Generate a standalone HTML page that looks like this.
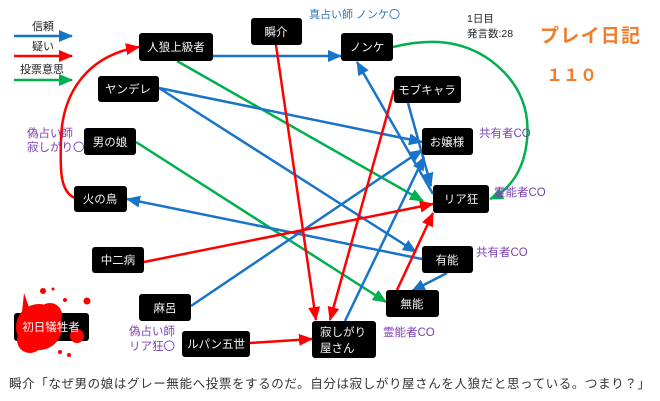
<!DOCTYPE html>
<html><head><meta charset="utf-8"><style>
html,body{margin:0;padding:0;background:#fff;}
svg{display:block;}
text{font-family:"Liberation Sans","Noto Sans CJK JP",sans-serif;}
</style></head><body>
<svg width="660" height="401" viewBox="0 0 660 401" xmlns="http://www.w3.org/2000/svg">
<defs>
<marker id="mb" markerUnits="userSpaceOnUse" markerWidth="14" markerHeight="12" refX="13" refY="6" orient="auto"><path d="M0,0 L14,6 L0,12 z" fill="#1874c8"/></marker>
<marker id="mr" markerUnits="userSpaceOnUse" markerWidth="14" markerHeight="12" refX="13" refY="6" orient="auto"><path d="M0,0 L14,6 L0,12 z" fill="#ff0000"/></marker>
<marker id="mg" markerUnits="userSpaceOnUse" markerWidth="14" markerHeight="12" refX="13" refY="6" orient="auto"><path d="M0,0 L14,6 L0,12 z" fill="#00b04f"/></marker>
</defs>
<rect width="660" height="401" fill="#fff"/>

<!-- legend -->
<g font-size="11" fill="#222">
<text x="32" y="30">信頼</text>
<text x="32" y="50">疑い</text>
<text x="20" y="73">投票意思</text>
</g>
<line x1="14" y1="36" x2="72" y2="36" stroke="#1874c8" stroke-width="2.5" marker-end="url(#mb)"/>
<line x1="14" y1="56" x2="72" y2="56" stroke="#ff0000" stroke-width="2.5" marker-end="url(#mr)"/>
<line x1="14" y1="80" x2="72" y2="80" stroke="#00b04f" stroke-width="2.5" marker-end="url(#mg)"/>

<!-- connectors -->
<g fill="none" stroke-width="2.5">
<!-- green -->
<line x1="177" y1="61" x2="423" y2="201" stroke="#00b04f" marker-end="url(#mg)"/>
<line x1="136" y1="142" x2="386" y2="302" stroke="#00b04f" marker-end="url(#mg)"/>
<path d="M393,47 C430,38 462,40 490,60 C520,82 530,110 527,140 C524,170 510,190 490,199" stroke="#00b04f" marker-end="url(#mg)"/>
<!-- blue -->
<line x1="213" y1="56" x2="341" y2="56" stroke="#1874c8" marker-end="url(#mb)"/>
<line x1="159" y1="88" x2="422" y2="142" stroke="#1874c8" marker-end="url(#mb)"/>
<line x1="159" y1="88" x2="416" y2="252" stroke="#1874c8" marker-end="url(#mb)"/>
<line x1="422" y1="259" x2="127" y2="199" stroke="#1874c8" marker-end="url(#mb)"/>
<line x1="433" y1="194" x2="357" y2="62" stroke="#1874c8" marker-end="url(#mb)"/>
<line x1="408" y1="103" x2="431" y2="186" stroke="#1874c8" marker-end="url(#mb)"/>
<line x1="191" y1="306" x2="422" y2="150" stroke="#1874c8" marker-end="url(#mb)"/>
<line x1="345" y1="321" x2="424" y2="157" stroke="#1874c8" marker-end="url(#mb)"/>
<line x1="447" y1="273" x2="412" y2="291" stroke="#1874c8" marker-end="url(#mb)"/>
<!-- red -->
<path d="M75,198 C60,192 60,170 61,140 C62,90 90,55 139,47" stroke="#ff0000" marker-end="url(#mr)"/>
<line x1="276" y1="45" x2="316" y2="320" stroke="#ff0000" marker-end="url(#mr)"/>
<line x1="394" y1="90" x2="330" y2="320" stroke="#ff0000" marker-end="url(#mr)"/>
<line x1="144" y1="262" x2="433" y2="204" stroke="#ff0000" marker-end="url(#mr)"/>
<line x1="397" y1="290" x2="433" y2="213" stroke="#ff0000" marker-end="url(#mr)"/>
<line x1="250" y1="343" x2="312" y2="339" stroke="#ff0000" marker-end="url(#mr)"/>
</g>

<!-- nodes -->
<g fill="#000">
<rect x="139" y="33" width="74" height="28" rx="3"/>
<rect x="98" y="76" width="61" height="26" rx="3"/>
<rect x="251" y="18" width="51" height="27" rx="3"/>
<rect x="341" y="33" width="52" height="28" rx="3"/>
<rect x="394" y="76" width="67" height="27" rx="3"/>
<rect x="84" y="128" width="52" height="27" rx="3"/>
<rect x="74" y="186" width="53" height="26" rx="3"/>
<rect x="422" y="128" width="51" height="27" rx="3"/>
<rect x="433" y="185" width="56" height="28" rx="3"/>
<rect x="92" y="247" width="52" height="26" rx="3"/>
<rect x="422" y="246" width="51" height="27" rx="3"/>
<rect x="386" y="290" width="53" height="27" rx="3"/>
<rect x="139" y="294" width="52" height="27" rx="3"/>
<rect x="14" y="313" width="75" height="28" rx="3"/>
<rect x="182" y="331" width="68" height="26" rx="3"/>
<rect x="312" y="321" width="64" height="37" rx="3"/>
</g>

<!-- blood splat -->
<g fill="#ff0000">
<circle cx="39" cy="327" r="23"/>
<circle cx="50" cy="315" r="12"/>
<circle cx="30" cy="340" r="13"/>
<circle cx="77" cy="336" r="7"/>
<circle cx="43" cy="291" r="3"/>
<circle cx="53" cy="289" r="1.5"/>
<circle cx="65" cy="300" r="2"/>
<circle cx="87" cy="301" r="3.5"/>
<circle cx="69" cy="355" r="2"/>
<circle cx="60" cy="352" r="2"/>
<path d="M24,293 L30,310 L22,312 z"/>
</g>

<g font-size="11.5" fill="#f2f2f2" text-anchor="middle">
<text x="176" y="51">人狼上級者</text>
<text x="128" y="93">ヤンデレ</text>
<text x="276" y="36">瞬介</text>
<text x="367" y="51">ノンケ</text>
<text x="427" y="94">モブキャラ</text>
<text x="110" y="146">男の娘</text>
<text x="100" y="203">火の鳥</text>
<text x="447" y="146">お嬢様</text>
<text x="461" y="203">リア狂</text>
<text x="118" y="264">中二病</text>
<text x="447" y="264">有能</text>
<text x="412" y="308">無能</text>
<text x="165" y="312">麻呂</text>
<text x="51" y="331">初日犠牲者</text>
<text x="216" y="348">ルパン五世</text>
</g>
<g font-size="11.5" fill="#f2f2f2">
<text x="320" y="336">寂しがり</text>
<text x="320" y="352">屋さん</text>
</g>

<!-- annotations -->
<g font-size="11.5" fill="#7b3fb5">
<text x="479" y="137">共有者CO</text>
<text x="494" y="196">霊能者CO</text>
<text x="476" y="256">共有者CO</text>
<text x="383" y="336">霊能者CO</text>
<text x="27" y="137">偽占い師</text>
<text x="27" y="151">寂しがり〇</text>
<text x="129" y="335">偽占い師</text>
<text x="129" y="350">リア狂〇</text>
</g>
<text x="309" y="18" font-size="11" fill="#2e75b6">真占い師 ノンケ〇</text>
<g font-size="10.5" fill="#222">
<text x="467" y="22">1日目</text>
<text x="467" y="37">発言数:28</text>
</g>
<text x="540" y="42" font-size="19" fill="#f47b2a" font-weight="bold" textLength="100">プレイ日記</text>
<text x="546" y="81" font-size="17" fill="#f47b2a" font-weight="bold" textLength="51">１１０</text>

<text x="9" y="388" font-size="12.5" fill="#333" textLength="641">瞬介「なぜ男の娘はグレー無能へ投票をするのだ。自分は寂しがり屋さんを人狼だと思っている。つまり？」</text>
</svg>
</body></html>
